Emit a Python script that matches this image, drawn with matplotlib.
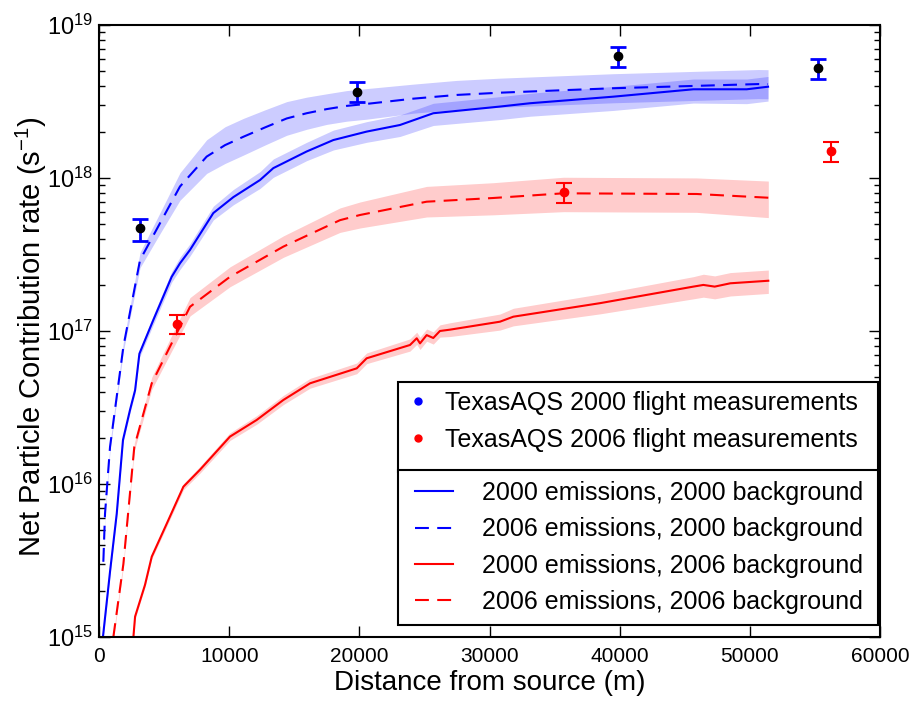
import numpy as np
import matplotlib
matplotlib.use("Agg")
import matplotlib.pyplot as plt
from matplotlib.lines import Line2D
from matplotlib.patches import Rectangle
from matplotlib.legend_handler import HandlerLine2D

plt.rcParams['font.family'] = ['Liberation Sans', 'DejaVu Sans']
plt.rcParams['mathtext.fontset'] = 'custom'
plt.rcParams['mathtext.rm'] = 'Liberation Sans'
plt.rcParams['mathtext.it'] = 'Liberation Sans:italic'
plt.rcParams['mathtext.bf'] = 'Liberation Sans:bold'
plt.rcParams['lines.scale_dashes'] = False

# ---------------- data ----------------
# 2000 emissions, 2000 background (blue solid)
x_b_solid = [300, 850, 1360, 1840, 2380, 2770, 3100, 4170, 5580, 6220, 6990, 8780, 10320,
             12370, 13390, 15950, 18000, 20560, 23120, 25680, 30800, 33110, 39510, 45660,
             49760, 51400]
y_b_solid = [1.0e15, 2.7e15, 6.4e15, 1.94e16, 3.05e16, 4.1e16, 7.1e16, 1.18e17, 2.26e17,
             2.77e17, 3.39e17, 5.9e17, 7.5e17, 9.7e17, 1.16e18, 1.49e18, 1.77e18, 2.01e18,
             2.22e18, 2.65e18, 2.93e18, 3.08e18, 3.4e18, 3.8e18, 3.8e18, 3.95e18]
lo_b_solid = [0.02, 0.02, 0.02, 0.02, 0.02, 0.02, 0.025, 0.03, 0.035, 0.04, 0.04, 0.045, 0.05,
              0.055, 0.06, 0.06, 0.065, 0.07, 0.075, 0.08, 0.085, 0.085, 0.09, 0.09, 0.094, 0.094]
hi_b_solid = [0.02, 0.02, 0.02, 0.02, 0.02, 0.02, 0.025, 0.03, 0.035, 0.04, 0.04, 0.045, 0.05,
              0.055, 0.06, 0.06, 0.065, 0.065, 0.065, 0.065, 0.065, 0.065, 0.067, 0.067, 0.067, 0.067]

# 2006 emissions, 2000 background (blue dashed)
x_b_dash = [330, 460, 845, 1870, 3150, 4810, 6220, 8270, 9680, 11090, 12750, 14420, 15950,
            17490, 19030, 20560, 24150, 27480, 30800, 39510, 50650, 51400]
y_b_dash = [3.1e15, 6.4e15, 1.75e16, 7.9e16, 2.91e17, 5.3e17, 8.8e17, 1.38e18, 1.64e18,
            1.86e18, 2.14e18, 2.45e18, 2.65e18, 2.82e18, 2.96e18, 3.05e18, 3.3e18, 3.49e18,
            3.61e18, 3.86e18, 4.11e18, 4.1e18]
lo_b_dash = [0.02, 0.02, 0.025, 0.03, 0.05, 0.07, 0.09, 0.11, 0.12, 0.12, 0.115, 0.11, 0.105,
             0.1, 0.1, 0.1, 0.095, 0.095, 0.095, 0.095, 0.095, 0.095]
hi_b_dash = [0.02, 0.02, 0.025, 0.03, 0.05, 0.07, 0.09, 0.11, 0.12, 0.12, 0.115, 0.11, 0.105,
             0.1, 0.1, 0.1, 0.095, 0.095, 0.095, 0.095, 0.095, 0.095]

# 2000 emissions, 2006 background (red solid)
x_r_solid = [2640, 2770, 3530, 4050, 5200, 6480, 7760, 10060, 12110, 14160, 16210, 19800,
             20560, 23890, 24410, 24660, 25170, 25680, 26190, 26960, 30800, 31830, 38490,
             45660, 46430, 47300, 48500, 51420]
y_r_solid = [1.0e15, 1.36e15, 2.19e15, 3.35e15, 5.5e15, 9.6e15, 1.24e16, 2.04e16, 2.62e16,
             3.54e16, 4.55e16, 5.7e16, 6.63e16, 8.1e16, 8.96e16, 8.3e16, 9.4e16, 9.0e16,
             1.0e17, 1.02e17, 1.15e17, 1.24e17, 1.52e17, 1.95e17, 2.0e17, 1.95e17, 2.05e17,
             2.13e17]
lo_r_solid = [0.015, 0.015, 0.015, 0.015, 0.018, 0.02, 0.022, 0.025, 0.028, 0.03, 0.032, 0.035,
              0.035, 0.04, 0.04, 0.04, 0.04, 0.04, 0.04, 0.045, 0.055, 0.06, 0.07, 0.08, 0.08,
              0.08, 0.083, 0.083]
hi_r_solid = [0.015, 0.015, 0.015, 0.015, 0.018, 0.02, 0.022, 0.025, 0.028, 0.03, 0.032, 0.035,
              0.035, 0.04, 0.04, 0.04, 0.04, 0.04, 0.04, 0.045, 0.05, 0.055, 0.06, 0.065, 0.07,
              0.07, 0.07, 0.07]

# 2006 emissions, 2006 background (red dashed)
x_r_dash = [1100, 1870, 2710, 4050, 5450, 6990, 10060, 14160, 18510, 20050, 25170, 30290,
            35670, 45910, 51420]
y_r_dash = [1.0e15, 3.0e15, 1.75e16, 4.55e16, 7.9e16, 1.44e17, 2.26e17, 3.56e17, 5.3e17,
            5.73e17, 7.0e17, 7.4e17, 7.94e17, 7.86e17, 7.43e17]
lo_r_dash = [0.02, 0.02, 0.025, 0.04, 0.05, 0.06, 0.065, 0.07, 0.08, 0.085, 0.1, 0.11, 0.12,
             0.12, 0.13]
hi_r_dash = [0.02, 0.02, 0.025, 0.04, 0.05, 0.06, 0.065, 0.07, 0.08, 0.085, 0.1, 0.1, 0.105,
             0.105, 0.109]

# Flight measurements
x_meas_2000 = [3150, 19800, 39900, 55200]
y_meas_2000 = [4.7e17, 3.65e18, 6.27e18, 5.24e18]
ylo_meas_2000 = [3.9e17, 3.14e18, 5.32e18, 4.44e18]
yhi_meas_2000 = [5.4e17, 4.24e18, 7.18e18, 6.0e18]

x_meas_2006 = [5990, 35710, 56220]
y_meas_2006 = [1.11e17, 8.1e17, 1.5e18]
ylo_meas_2006 = [0.96e17, 6.9e17, 1.28e18]
yhi_meas_2006 = [1.28e17, 9.3e17, 1.73e18]

labels_meas = ["TexasAQS 2000 flight measurements", "TexasAQS 2006 flight measurements"]
labels_model = ["2000 emissions, 2000 background", "2006 emissions, 2000 background",
                "2000 emissions, 2006 background", "2006 emissions, 2006 background"]

# ---------------- plot ----------------
fig = plt.figure(figsize=(9.23, 7.04), dpi=100, facecolor='white')
ax = fig.add_axes([0.1073, 0.0952, 0.8461, 0.8693])

def band(x, y, lo, hi, color):
    x = np.asarray(x, float); y = np.asarray(y, float)
    lo = np.asarray(lo); hi = np.asarray(hi)
    ax.fill_between(x, y * 10 ** (-lo), y * 10 ** hi, color=color, alpha=0.2, lw=0)

band(x_b_solid, y_b_solid, lo_b_solid, hi_b_solid, 'blue')
band(x_b_dash, y_b_dash, lo_b_dash, hi_b_dash, 'blue')
band(x_r_solid, y_r_solid, lo_r_solid, hi_r_solid, 'red')
band(x_r_dash, y_r_dash, lo_r_dash, hi_r_dash, 'red')

dash = (10, 6)
h1, = ax.plot(x_b_solid, y_b_solid, color='blue', lw=1.5)
h2, = ax.plot(x_b_dash, y_b_dash, color='blue', lw=1.5, ls='--', dashes=dash)
h3, = ax.plot(x_r_solid, y_r_solid, color='red', lw=1.5)
h4, = ax.plot(x_r_dash, y_r_dash, color='red', lw=1.5, ls='--', dashes=dash)

y0 = np.array(y_meas_2000)
ax.errorbar(x_meas_2000, y0, yerr=[y0 - np.array(ylo_meas_2000), np.array(yhi_meas_2000) - y0],
            fmt='o', color='black', ecolor='blue', elinewidth=2, capsize=6, capthick=2,
            markersize=6, zorder=5)
y1 = np.array(y_meas_2006)
ax.errorbar(x_meas_2006, y1, yerr=[y1 - np.array(ylo_meas_2006), np.array(yhi_meas_2006) - y1],
            fmt='o', color='red', ecolor='red', elinewidth=1.5, capsize=6, capthick=1.5,
            markersize=6, mec='red', zorder=5)

ax.set_yscale('log')
ax.set_xlim(0, 60000)
ax.set_ylim(1e15, 1e19)
ax.tick_params(which='both', direction='in', top=True, right=True)
ax.tick_params(axis='x', labelsize=15, pad=7)
ax.tick_params(axis='y', labelsize=17, pad=4)
ax.tick_params(which='major', length=8, width=1)
ax.tick_params(which='minor', length=4, width=1)
for s in ax.spines.values():
    s.set_linewidth(1.5)
ax.set_xlabel("Distance from source (m)", fontsize=20, labelpad=3)
ax.set_ylabel("Net Particle Contribution rate (s$^{-1}$)", fontsize=21)
ax.yaxis.set_label_coords(-0.064, 0.49)

# frame of the upper legend box
leg_left, leg_w = 0.383, 0.614
ax.add_patch(Rectangle((leg_left, 0.2696), leg_w, 0.4167 - 0.2696, transform=ax.transAxes,
                       facecolor='white', edgecolor='black', lw=1.5, zorder=8))

p1 = Line2D([], [], marker='o', ls='none', color='blue', markersize=5)
p2 = Line2D([], [], marker='o', ls='none', color='red', markersize=5)
leg1 = ax.legend([p1, p2], labels_meas, loc='upper left',
                 bbox_to_anchor=(leg_left, 0.4167, leg_w, 0.0),
                 mode='expand', borderaxespad=0, fontsize=18, frameon=False,
                 handlelength=0.88, handletextpad=0.64, borderpad=0.36,
                 labelspacing=0.53, numpoints=1)
leg1.set_zorder(9)
ax.add_artist(leg1)
leg2 = ax.legend([h1, h2, h3, h4], labels_model, loc='lower left',
                 bbox_to_anchor=(leg_left, 0.0196, leg_w, 0.0), mode='expand', borderaxespad=0,
                 fontsize=18, fancybox=False, framealpha=1, edgecolor='black',
                 handlelength=1.76, handletextpad=1.16, borderpad=0.44, labelspacing=0.49,
                 handler_map={Line2D: HandlerLine2D(xpad=0.24)})
leg2.get_frame().set_linewidth(1.5)
leg2.set_zorder(10)

fig.savefig("out.png", dpi=100, facecolor='white')
